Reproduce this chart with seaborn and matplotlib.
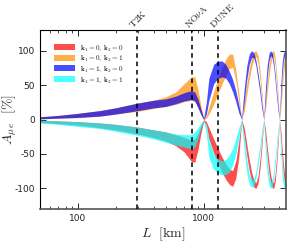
import matplotlib
matplotlib.use("Agg")
import matplotlib.pyplot as plt
import seaborn as sns

# baseline L [km] and band edges A_mue [%]
L_km = [50, 70, 100, 150, 200, 300, 400, 500, 600, 700, 800, 850, 900, 950,
        1000, 1050, 1100, 1200, 1300, 1400, 1500, 1600, 1700, 1800, 1900,
        2000, 2100, 2200, 2300, 2400, 2500, 2600, 2700, 2800, 2900, 3000,
        3100, 3200, 3300, 3400, 3500, 3600, 3700, 3800, 3900, 4000, 4100,
        4200, 4300, 4400, 4500]

red_hi = [-1, -2, -3, -5, -7, -11, -15, -18, -22, -26, -30, -28, -20, -9,
          0, -3, -12, -28, -42, -55, -64, -72, -74, -60, -32,
          0, -12, -36, -58, -76, -88, -92, -82, -58, -28, 0,
          -15, -40, -62, -80, -90, -92, -78, -52, -24, 0, -16,
          -42, -64, -81, -90]
red_lo = [-4, -6, -8, -12, -15, -21, -26, -31, -38, -47, -61, -62, -44, -20,
          -2, -8, -28, -48, -64, -77, -87, -94, -97, -85, -55,
          -2, -25, -52, -74, -89, -98, -100, -93, -72, -40, -2,
          -28, -55, -78, -92, -99, -100, -90, -66, -35, -2, -30,
          -57, -80, -93, -99]

orange_lo = [1, 2, 3, 5, 8, 12, 16, 19, 22, 26, 28, 26, 19, 8,
             0, 2, 8, 22, 38, 52, 64, 74, 76, 56, 26,
             0, 12, 36, 58, 76, 88, 92, 82, 58, 28, 0,
             15, 40, 62, 80, 90, 92, 78, 52, 24, 0, 16,
             42, 64, 81, 90]
orange_hi = [4, 6, 9, 13, 17, 24, 28, 33, 40, 52, 62, 62, 44, 20,
             2, 6, 18, 40, 60, 75, 88, 95, 95, 72, 38,
             2, 25, 52, 74, 89, 98, 100, 93, 72, 40, 2,
             28, 55, 78, 92, 99, 100, 90, 66, 35, 2, 30,
             57, 80, 93, 99]

blue_lo = [1, 2, 3, 5, 8, 13, 17, 19, 23, 27, 29, 27, 17, 7,
           0, 8, 28, 52, 60, 62, 60, 52, 40, 26, 10,
           0, 25, 58, 80, 90, 90, 78, 58, 38, 15, 0,
           28, 62, 84, 93, 90, 76, 55, 32, 12, 0, 30,
           64, 85, 93, 92]
blue_hi = [4, 6, 9, 13, 17, 24, 28, 30, 34, 39, 42, 40, 30, 15,
           2, 25, 60, 80, 85, 85, 80, 70, 58, 42, 22,
           2, 45, 78, 95, 100, 97, 86, 68, 48, 24, 2,
           48, 80, 96, 100, 97, 85, 65, 42, 20, 2, 50,
           82, 96, 100, 98]

cyan_hi = [-1, -2, -3, -5, -7, -11, -15, -18, -21, -22, -22, -18, -12, -5,
           0, -8, -28, -50, -58, -60, -58, -52, -42, -28, -12,
           0, -25, -58, -80, -88, -86, -75, -56, -36, -14, 0,
           -28, -62, -82, -90, -88, -74, -54, -32, -12, 0, -30,
           -64, -84, -92, -92]
cyan_lo = [-5, -7, -10, -13, -17, -23, -28, -33, -37, -40, -43, -40, -28, -12,
           -2, -20, -55, -72, -78, -80, -80, -76, -66, -50, -28,
           -2, -45, -78, -94, -98, -96, -85, -67, -47, -24, -2,
           -48, -80, -96, -100, -97, -85, -65, -42, -20, -2, -50,
           -82, -96, -100, -98]

labels = [r"$\mathbf{k_1=0,\,k_2=0}$", r"$\mathbf{k_1=0,\,k_2=1}$",
          r"$\mathbf{k_1=1,\,k_2=0}$", r"$\mathbf{k_1=1,\,k_2=1}$"]
colors = ["red", "darkorange", "blue", "cyan"]

experiments = [r"$\mathrm{T2K}$", r"$\mathrm{NO}\nu\mathrm{A}$", r"$\mathrm{DUNE}$"]
exp_L = [295, 810, 1300]

sns.set_style("ticks")
plt.rcParams["mathtext.fontset"] = "cm"
plt.rcParams["axes.unicode_minus"] = False

fig = plt.figure(figsize=(3.0, 2.42), dpi=100)
ax = fig.add_axes([0.133, 0.136, 0.82, 0.74])

bands = [(red_lo, red_hi), (orange_lo, orange_hi),
         (blue_lo, blue_hi), (cyan_lo, cyan_hi)]
for (lo, hi), c, lab in zip(bands, colors, labels):
    ax.fill_between(L_km, lo, hi, color=c, alpha=0.7, lw=0, label=lab)

for xl, name in zip(exp_L, experiments):
    ax.axvline(xl, color="black", ls=(0, (3, 2.5)), lw=1.1, zorder=5)
    ax.text(xl * 0.955, 130, name, rotation=45, ha="left", va="bottom",
            rotation_mode="anchor", fontsize=7)

ax.set_xscale("log")
ax.set_xlim(50, 4500)
ax.set_ylim(-130, 130)
ax.set_yticks([-100, -50, 0, 50, 100])
ax.set_xticks([100, 1000])
ax.set_xticklabels(["100", "1000"])
ax.tick_params(which="both", direction="in", top=True, right=True,
               labelsize=6.5, labelcolor="#222222")
ax.tick_params(which="major", length=4, width=0.7)
ax.tick_params(which="minor", length=2.5, width=0.6)
for side in ["left", "top"]:
    ax.spines[side].set_color("black")
    ax.spines[side].set_linewidth(0.8)
for side in ["bottom", "right"]:
    ax.spines[side].set_color("#555555")
    ax.spines[side].set_linewidth(1.2)

ax.set_xlabel(r"$L\ \ [\mathrm{km}]$", fontsize=10, labelpad=2)
ax.set_ylabel(r"$A_{\mu\, e}\ \ [\%]$", fontsize=10)
ax.yaxis.set_label_coords(-0.085, 0.5)

ax.legend(loc="upper left", bbox_to_anchor=(0.035, 0.955), frameon=False,
          fontsize=5.2, handlelength=2.9, handleheight=0.95,
          labelspacing=0.15, handletextpad=0.7, borderpad=0.2)

fig.savefig("out.png", dpi=100)
